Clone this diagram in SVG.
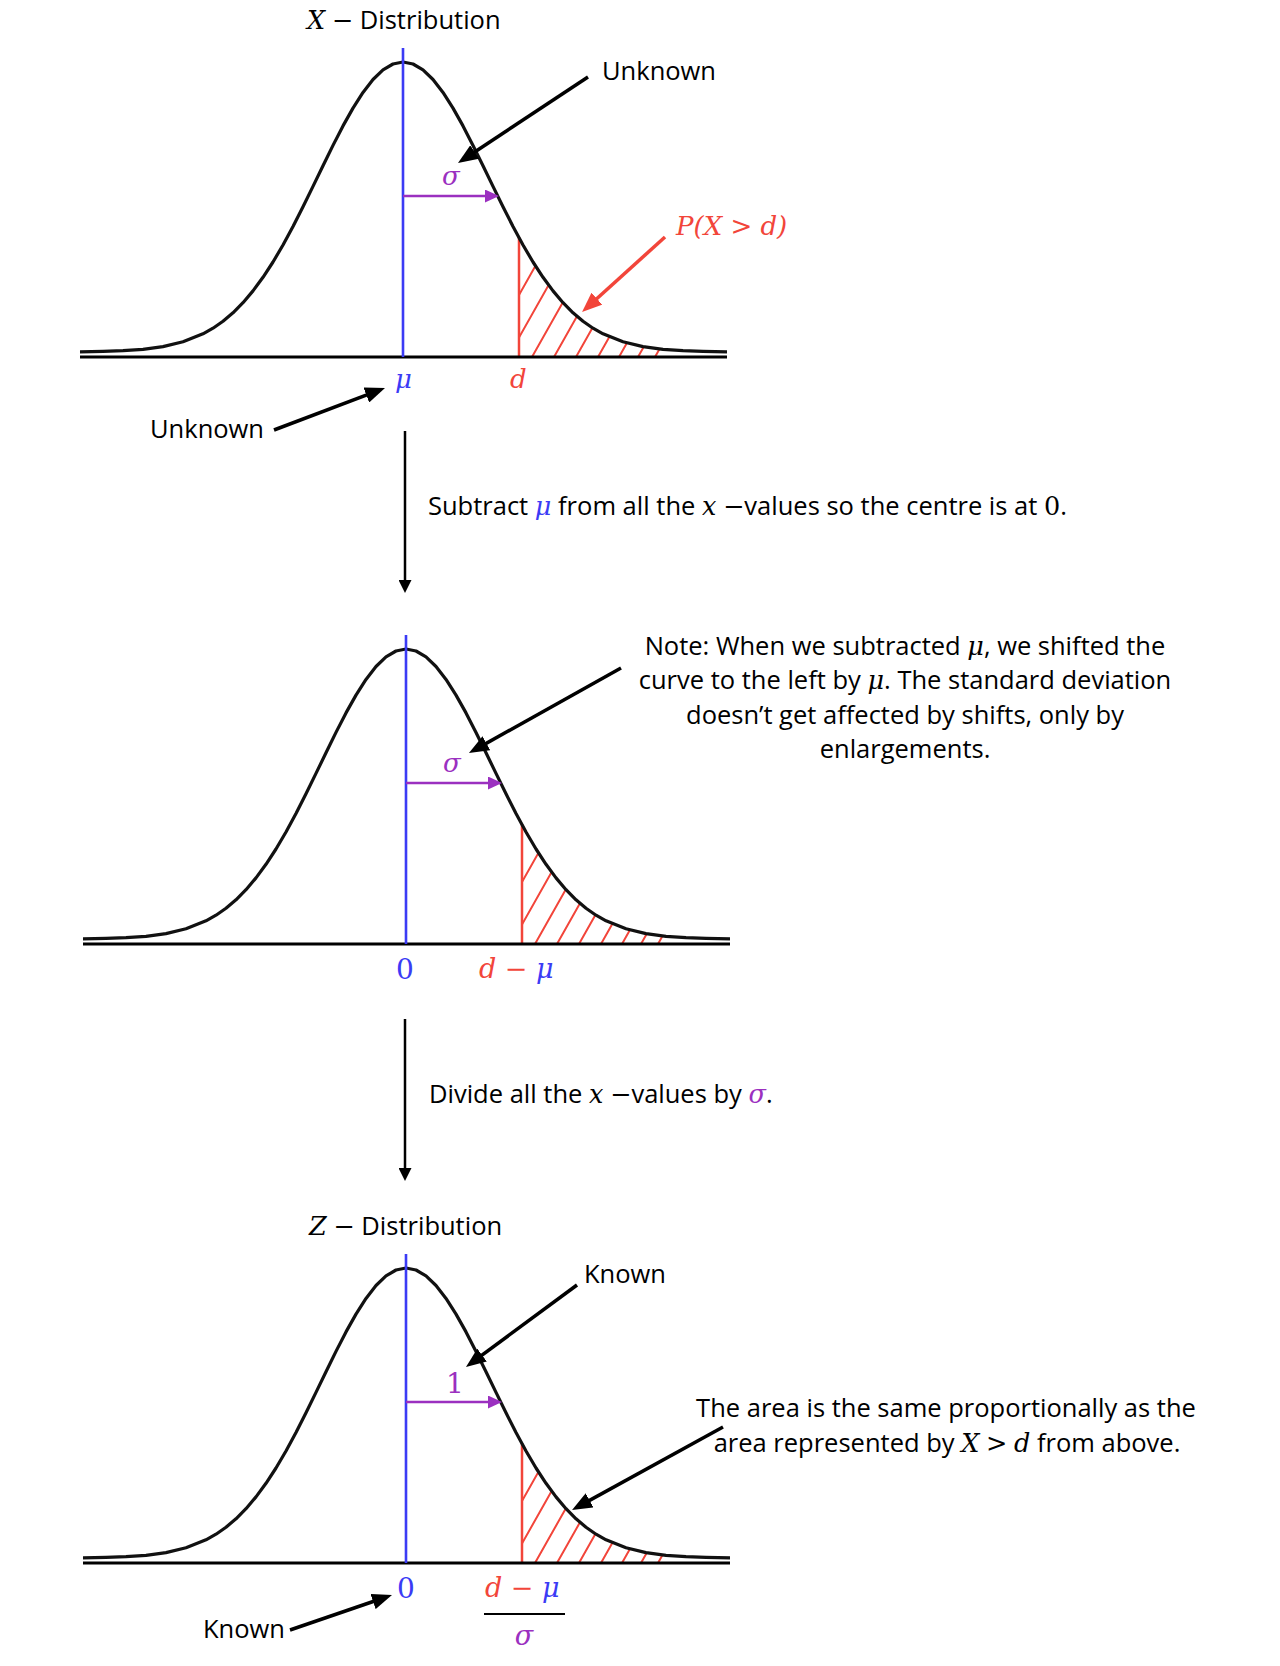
<svg xmlns="http://www.w3.org/2000/svg" xmlns:xlink="http://www.w3.org/1999/xlink" width="1280" height="1666" viewBox="0 0 1280 1666">
<defs>
<style>
.t{font-family:"Open Sans","Liberation Sans",sans-serif;font-size:25.5px;fill:#000}
.m{font-family:"DejaVu Serif","Liberation Serif",serif;font-style:italic}
.n{font-family:"DejaVu Serif","Liberation Serif",serif;font-style:normal}
.blue{fill:#3b3bf5}
.purple{fill:#9b30c0}
.red{fill:#f2453a}
.curve{fill:none;stroke:#111;stroke-width:3.2;stroke-linejoin:round}
.axis{stroke:#000;stroke-width:3}
.mean{stroke:#3b3bf5;stroke-width:2.6}
.sd{stroke:#9b30c0;stroke-width:2.6}
.cut{stroke:#f2453a;stroke-width:2.5}
.hatch{stroke:#f2453a;stroke-width:2;fill:none}
.ann{stroke:#000;stroke-width:3.5;fill:none}
.annr{stroke:#f2453a;stroke-width:3.5;fill:none}
.down{stroke:#000;stroke-width:2.5}
</style>
<marker id="hb" viewBox="0 0 20 16" refX="14" refY="8" markerWidth="20" markerHeight="16" markerUnits="userSpaceOnUse" orient="auto"><path d="M0,0L20,8L0,16z" fill="#000"/></marker>
<marker id="hr" viewBox="0 0 20 16" refX="14" refY="8" markerWidth="20" markerHeight="16" markerUnits="userSpaceOnUse" orient="auto"><path d="M0,0L20,8L0,16z" fill="#f2453a"/></marker>
<marker id="hp" viewBox="0 0 14 13" refX="10" refY="6.5" markerWidth="14" markerHeight="13" markerUnits="userSpaceOnUse" orient="auto"><path d="M0,0L14,6.5L0,13z" fill="#9b30c0"/></marker>
<marker id="hd" viewBox="0 0 13 13" refX="7" refY="6.5" markerWidth="13" markerHeight="13" markerUnits="userSpaceOnUse" orient="auto"><path d="M0,0L13,6.5L0,13z" fill="#000"/></marker>
<clipPath id="tail"><polygon points="519,357 519,237.6 523,245 533,262 543,277.3 553,290.9 563,302.7 573,312.8 583,321.2 593,328.2 603,333.8 623,341.8 643,346.6 663,349.3 683,350.7 703,351.4 727,351.8 727,357"/></clipPath>
<g id="graph">
<path class="hatch" clip-path="url(#tail)" d="M484,357L554,233M508,357L578,233M532,357L602,233M554,357L624,233M576,357L646,233M598,357L668,233M619,357L689,233M638,357L708,233M655,357L725,233"/>
<line class="cut" x1="519" y1="237" x2="519" y2="357"/>
<polyline class="curve" points="80,351.8 103,351.4 123,350.7 143,349.3 163,346.6 183,341.8 203,333.8 213,328.2 223,321.2 233,312.8 243,302.7 253,290.9 263,277.3 273,262 283,245 293,226.5 303,206.8 313,186.4 323,165.8 333,145.4 343,125.9 353,108.1 363,92.4 373,79.5 383,69.9 393,64 403,62 413,64 423,69.9 433,79.5 443,92.4 453,108.1 463,125.9 473,145.4 483,165.8 493,186.4 503,206.8 513,226.5 523,245 533,262 543,277.3 553,290.9 563,302.7 573,312.8 583,321.2 593,328.2 603,333.8 623,341.8 643,346.6 663,349.3 683,350.7 703,351.4 727,351.8"/>
<line class="axis" x1="80" y1="357" x2="727" y2="357"/>
<line class="mean" x1="403" y1="48" x2="403" y2="357"/>
<line class="sd" x1="403" y1="196" x2="495" y2="196" marker-end="url(#hp)"/>
</g>
</defs>

<g id="x-distribution">
<text class="t" x="307" y="29"><tspan class="m">X</tspan> <tspan class="n">−</tspan> Distribution</text>
<use xlink:href="#graph" href="#graph"/>
<text class="m purple" x="442" y="185" font-size="26">σ</text>
<text class="m blue" x="395" y="388" font-size="26">μ</text>
<text class="m red" x="510" y="388" font-size="26">d</text>
<text class="m red" x="676" y="235" font-size="26">P(X &gt; d)</text>
<text class="t" x="602" y="80">Unknown</text>
<text class="t" x="150" y="438">Unknown</text>
</g>

<g id="step-subtract">
<text class="t" x="428" y="515">Subtract <tspan class="m blue">μ</tspan> from all the <tspan class="m">x</tspan> <tspan class="n">−</tspan>values so the centre is at <tspan class="n">0</tspan>.</text>
</g>

<g id="shifted-distribution">
<use xlink:href="#graph" href="#graph" transform="translate(3,587)"/>
<text class="m purple" x="443" y="772" font-size="26">σ</text>
<text class="n blue" x="405" y="979" font-size="28" text-anchor="middle">0</text>
<text class="m red" x="479" y="978" font-size="27">d − <tspan class="blue">μ</tspan></text>
<text class="t" text-anchor="middle" x="905"><tspan x="905" y="655">Note: When we subtracted <tspan class="m">μ</tspan>, we shifted the</tspan><tspan x="905" y="689">curve to the left by <tspan class="m">μ</tspan>. The standard deviation</tspan><tspan x="905" y="724">doesn’t get affected by shifts, only by</tspan><tspan x="905" y="758">enlargements.</tspan></text>
</g>

<g id="step-divide">
<text class="t" x="429" y="1103">Divide all the <tspan class="m">x</tspan> <tspan class="n">−</tspan>values by <tspan class="m purple">σ</tspan>.</text>
</g>

<g id="z-distribution">
<text class="t" x="309" y="1235"><tspan class="m">Z</tspan> <tspan class="n">−</tspan> Distribution</text>
<use xlink:href="#graph" href="#graph" transform="translate(3,1206)"/>
<text class="n purple" x="446" y="1393" font-size="28">1</text>
<text class="n blue" x="406" y="1598" font-size="28" text-anchor="middle">0</text>
<text class="m red" x="485" y="1597" font-size="27">d − <tspan class="blue">μ</tspan></text>
<line x1="484" y1="1614" x2="565" y2="1614" stroke="#000" stroke-width="2"/>
<text class="m purple" x="524" y="1645" font-size="27" text-anchor="middle">σ</text>
<text class="t" x="584" y="1283">Known</text>
<text class="t" x="203" y="1638">Known</text>
<text class="t" text-anchor="middle"><tspan x="946" y="1417">The area is the same proportionally as the</tspan><tspan x="947" y="1452">area represented by <tspan class="m">X</tspan> <tspan class="n">&gt;</tspan> <tspan class="m">d</tspan> from above.</tspan></text>
</g>

<g id="connectors">
<line class="ann" x1="588" y1="77" x2="463" y2="159.7" marker-end="url(#hb)"/>
<line class="annr" x1="665" y1="237" x2="586.5" y2="308" marker-end="url(#hr)"/>
<line class="ann" x1="274" y1="430" x2="379.4" y2="390.1" marker-end="url(#hb)"/>
<line class="down" x1="405" y1="431" x2="405" y2="587" marker-end="url(#hd)"/>
<line class="ann" x1="621" y1="668" x2="474.2" y2="750.1" marker-end="url(#hb)"/>
<line class="down" x1="405" y1="1019" x2="405" y2="1175" marker-end="url(#hd)"/>
<line class="ann" x1="577" y1="1285" x2="470.8" y2="1363.4" marker-end="url(#hb)"/>
<line class="ann" x1="723" y1="1427" x2="577.3" y2="1507.1" marker-end="url(#hb)"/>
<line class="ann" x1="290" y1="1630" x2="386.3" y2="1597" marker-end="url(#hb)"/>
</g>
</svg>
